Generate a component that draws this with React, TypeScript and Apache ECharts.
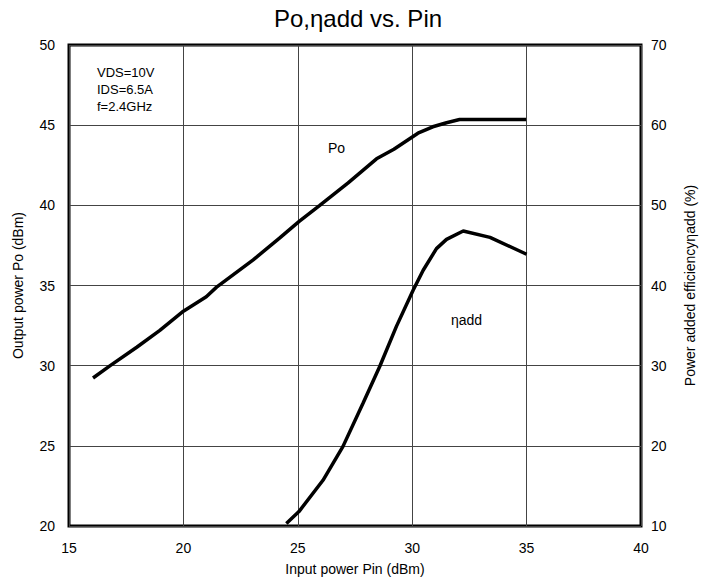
import React, { useEffect, useRef } from "react";
import * as echarts from "echarts";

const poPin = [16.05, 16.8, 17.96, 18.97, 20.0, 21.0, 21.45, 23.05, 24.2, 25.06, 25.96, 27.2, 28.44, 29.2, 30.25, 30.9, 31.5, 32.07, 33.0, 34.0, 34.98];
const poVal = [29.23, 30.0, 31.15, 32.2, 33.4, 34.3, 34.9, 36.6, 37.95, 39.0, 40.0, 41.4, 42.9, 43.5, 44.5, 44.9, 45.15, 45.35, 45.35, 45.35, 45.35];

const etaPin = [24.5, 25.05, 26.1, 26.97, 27.85, 28.58, 29.31, 30.04, 30.48, 31.06, 31.5, 32.23, 33.4, 35.0];
const etaVal = [10.3, 11.8, 15.7, 19.9, 25.3, 29.9, 34.9, 39.4, 41.9, 44.6, 45.75, 46.8, 46.0, 43.9];

const conditions = ["VDS=10V", "IDS=6.5A", "f=2.4GHz"];

const FONT = "Liberation Sans, Arial, sans-serif";

export default function App() {
  const ref = useRef<HTMLDivElement>(null);
  useEffect(() => {
    if (!ref.current) return;
    const chart = echarts.init(ref.current, undefined, { renderer: "svg" });
    const axisLabel = { color: "#000", fontSize: 14, fontFamily: FONT };
    chart.setOption({
      animation: false,
      backgroundColor: "#fff",
      title: {
        text: "Po,ηadd vs. Pin",
        left: "center",
        top: 1,
        textStyle: { fontSize: 24, fontWeight: "normal", color: "#000", fontFamily: FONT },
      },
      grid: {
        left: 69,
        right: 75,
        top: 45,
        bottom: 58,
        show: true,
        borderColor: "#000",
        borderWidth: 3,
        backgroundColor: "transparent",
      },
      xAxis: {
        type: "value",
        min: 15,
        max: 40,
        interval: 5,
        name: "Input power Pin (dBm)",
        nameLocation: "middle",
        nameGap: 36,
        nameTextStyle: { fontSize: 14, color: "#000", fontFamily: FONT },
        axisLine: { show: false },
        axisTick: { show: false },
        axisLabel: { ...axisLabel, margin: 15 },
        splitLine: { show: true, lineStyle: { color: "#444", width: 1 } },
      },
      yAxis: [
        {
          type: "value",
          min: 20,
          max: 50,
          interval: 5,
          name: "Output power Po (dBm)",
          nameLocation: "middle",
          nameGap: 44,
          nameRotate: 90,
          nameTextStyle: { fontSize: 14, color: "#000", fontFamily: FONT },
          axisLine: { show: false },
          axisTick: { show: false },
          axisLabel: { ...axisLabel, margin: 14 },
          splitLine: { show: true, lineStyle: { color: "#444", width: 1 } },
        },
        {
          type: "value",
          min: 10,
          max: 70,
          interval: 10,
          position: "right",
          name: "Power added efficiencyηadd (%)",
          nameLocation: "middle",
          nameGap: 42,
          nameRotate: 90,
          nameTextStyle: { fontSize: 14, color: "#000", fontFamily: FONT },
          axisLine: { show: false },
          axisTick: { show: false },
          axisLabel: { ...axisLabel, margin: 10 },
          splitLine: { show: false },
        },
      ],
      series: [
        {
          type: "line",
          name: "Po",
          yAxisIndex: 0,
          data: poPin.map((x, i) => [x, poVal[i]]),
          showSymbol: false,
          symbol: "none",
          lineStyle: { color: "#000", width: 3.5 },
          z: 5,
        },
        {
          type: "line",
          name: "ηadd",
          yAxisIndex: 1,
          data: etaPin.map((x, i) => [x, etaVal[i]]),
          showSymbol: false,
          symbol: "none",
          lineStyle: { color: "#000", width: 3.5 },
          z: 5,
        },
      ],
      graphic: [
        {
          type: "text",
          left: 97,
          top: 64,
          style: {
            text: conditions.join("\n"),
            fontSize: 13,
            lineHeight: 17,
            fill: "#000",
            fontFamily: FONT,
          },
        },
        {
          type: "text",
          left: 328,
          top: 141,
          style: { text: "Po", fontSize: 14, fill: "#000", fontFamily: FONT },
        },
        {
          type: "text",
          left: 451,
          top: 313,
          style: { text: "ηadd", fontSize: 14, fill: "#000", fontFamily: FONT },
        },
      ],
    });
    return () => chart.dispose();
  }, []);
  return <div ref={ref} style={{ width: 716, height: 584, position: "absolute", left: 0, top: 0 }} />;
}
